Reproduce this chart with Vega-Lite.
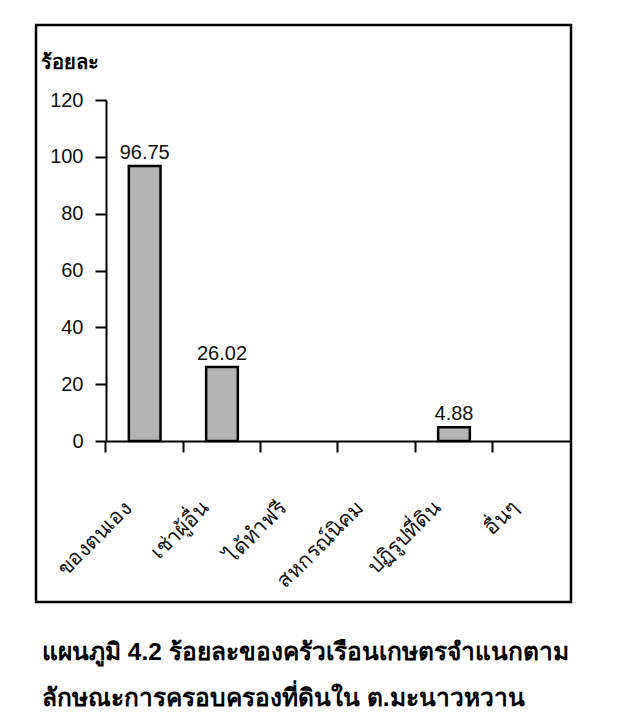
{
  "$schema": "https://vega.github.io/schema/vega-lite/v6.json",
  "width": 535,
  "height": 577,
  "autosize": {"type": "none"},
  "padding": {"left": 36, "top": 25, "right": 50, "bottom": 125},
  "background": "white",
  "config": {
    "view": {"stroke": "black", "strokeWidth": 2.5},
    "font": "Liberation Sans",
    "axis": {"domainColor": "black", "tickColor": "black", "labelColor": "#111", "domainWidth": 2, "tickWidth": 2, "grid": false}
  },
  "title": {
    "text": ["แผนภูมิ  4.2  ร้อยละของครัวเรือนเกษตรจำแนกตาม", "ลักษณะการครอบครองที่ดินใน ต.มะนาวหวาน"],
    "orient": "bottom",
    "anchor": "start",
    "dx": 6,
    "offset": 39,
    "fontSize": 24.5,
    "fontWeight": "bold",
    "lineHeight": 46,
    "color": "black"
  },
  "data": {
    "values": [
      {"cat": "ของตนเอง", "value": 96.75},
      {"cat": "เช่าผู้อื่น", "value": 26.02},
      {"cat": "ได้ทำฟรี", "value": 0},
      {"cat": "สหกรณ์นิคม", "value": 0},
      {"cat": "ปฏิรูปที่ดิน", "value": 4.88},
      {"cat": "อื่นๆ", "value": 0}
    ]
  },
  "transform": [{"filter": "datum.value > 0"}],
  "encoding": {
    "x": {
      "field": "cat",
      "type": "nominal",
      "sort": null,
      "scale": {
        "domain": ["ของตนเอง", "เช่าผู้อื่น", "ได้ทำฟรี", "สหกรณ์นิคม", "ปฏิรูปที่ดิน", "อื่นๆ"],
        "range": [70, 534],
        "paddingInner": 0.59,
        "paddingOuter": 0.295
      },
      "axis": {
        "title": null,
        "offset": -161,
        "bandPosition": -0.72,
        "tickSize": 11,
        "labelAngle": -45,
        "labelFontSize": 21,
        "labelPadding": 45,
        "labelOffset": -24
      }
    },
    "y": {
      "field": "value",
      "type": "quantitative",
      "scale": {"domain": [0, 120], "range": [416, 75], "nice": false},
      "axis": {
        "title": "ร้อยละ",
        "titleAngle": 0,
        "titleFontSize": 20,
        "titleFontWeight": "bold",
        "titleColor": "black",
        "titleX": -66,
        "titleY": 37,
        "titleAlign": "left",
        "titleBaseline": "middle",
        "values": [0, 20, 40, 60, 80, 100, 120],
        "offset": -70,
        "tickSize": 11,
        "labelFontSize": 20,
        "labelPadding": 12
      }
    }
  },
  "layer": [
    {"mark": {"type": "bar", "fill": "#b4b4b4", "stroke": "black", "strokeWidth": 2.5}},
    {
      "mark": {"type": "text", "baseline": "bottom", "dy": -3, "fontSize": 20, "color": "#111"},
      "encoding": {"text": {"field": "value", "type": "quantitative", "format": ".2f"}}
    }
  ]
}
